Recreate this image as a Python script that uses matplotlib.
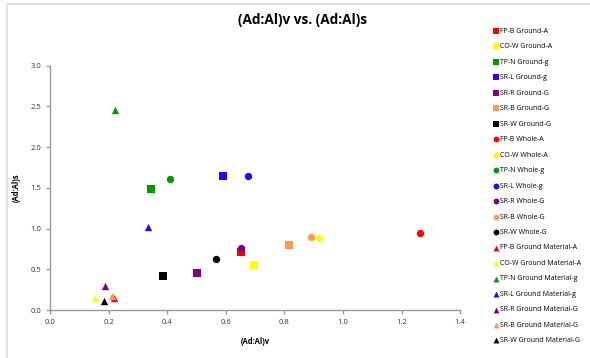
import numpy as np
import matplotlib
matplotlib.use("Agg")
import matplotlib.pyplot as plt
from matplotlib.patches import Rectangle

plt.rcParams['font.family'] = ['Open Sans', 'DejaVu Sans']

# series names (same order as the legend)
sites = ["FP-B", "CO-W", "TP-N", "SR-L", "SR-R", "SR-B", "SR-W"]
suffix = ["A", "A", "g", "g", "G", "G", "G"]
colors = ["#FF0000", "#FFFF00", "#009900", "#3300FF", "#800080", "#FF9955", "#000000"]

# (Ad:Al)v and (Ad:Al)s for each sample type
ground_v = [0.653, 0.695, 0.345, 0.590, 0.502, 0.815, 0.385]
ground_s = [0.71, 0.55, 1.48, 1.65, 0.45, 0.80, 0.42]

whole_v = [1.264, 0.917, 0.409, 0.676, 0.653, 0.892, 0.568]
whole_s = [0.946, 0.889, 1.613, 1.65, 0.766, 0.893, 0.627]

gmat_v = [0.220, 0.154, 0.223, 0.335, 0.188, 0.212, 0.185]
gmat_s = [0.143, 0.147, 2.46, 1.016, 0.299, 0.168, 0.110]

fig = plt.figure(figsize=(5.9, 3.58), dpi=100)
ax = fig.add_axes([0.0847, 0.134, 0.6953, 0.6825])

groups = [("Ground", "s", ground_v, ground_s),
          ("Whole", "o", whole_v, whole_s),
          ("Ground Material", "^", gmat_v, gmat_s)]
for kind, mk, xs, ys in groups:
    for i in range(len(sites)):
        ax.scatter(xs[i], ys[i], marker=mk, s=28, color=colors[i], linewidths=0,
                   label="%s %s-%s" % (sites[i], kind, suffix[i]), zorder=3)

ax.set_xlim(0, 1.4)
ax.set_ylim(0, 3.0)
ax.set_xticks(np.arange(0, 1.41, 0.2))
ax.set_yticks(np.arange(0, 3.01, 0.5))
ax.xaxis.set_major_formatter(matplotlib.ticker.FormatStrFormatter('%.1f'))
ax.yaxis.set_major_formatter(matplotlib.ticker.FormatStrFormatter('%.1f'))
for side in ['top', 'right']:
    ax.spines[side].set_visible(False)
for side in ['left', 'bottom']:
    ax.spines[side].set_color('#999999')
    ax.spines[side].set_linewidth(1.0)
ax.tick_params(axis='both', colors='#999999', labelcolor='#333333', labelsize=5.5,
               length=3, width=1.0, direction='out')

ax.set_xlabel("(Ad:Al)v", fontsize=5.5, fontweight='bold', labelpad=8)
ax.set_ylabel("(Ad:Al)s", fontsize=5.5, fontweight='bold', labelpad=7)

fig.text(0.512, 0.944, "(Ad:Al)v vs. (Ad:Al)s", fontsize=9.8, fontweight='bold',
         ha='center', va='center')

fig.legend(loc='upper left', bbox_to_anchor=(0.829, 0.93), frameon=False,
           fontsize=5, labelspacing=1.22, handletextpad=0.0, handlelength=1.2,
           borderaxespad=0, scatterpoints=1, markerscale=0.8)

# light chart-area frame
fig.patches.append(Rectangle((0.012, -0.1), 1.2, 1.09, transform=fig.transFigure,
                             fill=False, edgecolor='#dddddd', linewidth=1.2))

fig.savefig("out.png", dpi=100)
